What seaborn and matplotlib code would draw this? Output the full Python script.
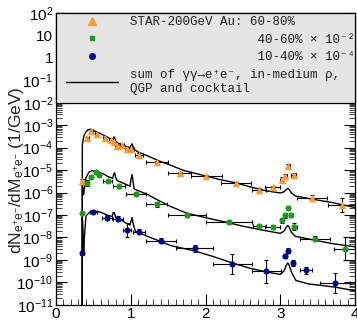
import numpy as np
import pandas as pd
import matplotlib
matplotlib.use("Agg")
import matplotlib.pyplot as plt
import seaborn as sns
from matplotlib.lines import Line2D
from matplotlib.patches import Rectangle
from matplotlib.ticker import FixedLocator, LogLocator, FuncFormatter, MultipleLocator, NullFormatter
from matplotlib.font_manager import FontProperties

# ---------------- data (log10 of yield) ----------------
# STAR 60-80 %
m_6080 = [0.345, 0.42, 0.47, 0.546, 0.65, 0.73, 0.77, 0.81, 0.88, 0.95, 1.01, 1.11, 1.35,
          1.655, 2.01, 2.41, 2.716, 2.90, 3.02, 3.07, 3.11, 3.18, 3.42, 3.82]
y_6080 = [-5.50, -3.56, -3.27, -3.38, -3.56, -3.68, -3.75, -3.93, -3.90, -4.08, -4.05, -4.32, -4.65,
          -5.13, -5.28, -5.59, -5.88, -5.77, -5.43, -5.28, -4.80, -5.22, -6.24, -6.55]
xe_6080 = [0.01, 0.02, 0.02, 0.02, 0.02, 0.02, 0.02, 0.02, 0.03, 0.03, 0.03, 0.05, 0.15,
           0.15, 0.21, 0.2, 0.09, 0.1, 0.02, 0.02, 0.02, 0.03, 0.2, 0.18]
ye_6080 = [0.1, 0.05, 0.05, 0.05, 0.05, 0.05, 0.05, 0.05, 0.05, 0.05, 0.05, 0.06, 0.06,
           0.06, 0.06, 0.06, 0.08, 0.08, 0.1, 0.1, 0.08, 0.08, 0.15, 0.3]

# STAR 40-60 % (x 1e-2)
m_4060 = [0.35, 0.42, 0.465, 0.53, 0.58, 0.69, 0.846, 1.07, 1.35, 1.755, 2.31, 2.72, 2.90,
          3.02, 3.07, 3.11, 3.14, 3.19, 3.47, 3.87]
y_4060 = [-6.91, -5.58, -5.30, -5.10, -5.21, -5.48, -5.73, -6.07, -6.53, -7.01, -7.31, -7.50, -7.54,
          -7.24, -7.02, -6.67, -7.00, -7.52, -8.05, -8.50]
xe_4060 = [0.01, 0.02, 0.02, 0.02, 0.02, 0.06, 0.08, 0.14, 0.14, 0.25, 0.31, 0.09, 0.1,
           0.02, 0.02, 0.02, 0.02, 0.03, 0.2, 0.15]
ye_4060 = [0.05, 0.12, 0.05, 0.05, 0.05, 0.05, 0.05, 0.08, 0.1, 0.1, 0.1, 0.1, 0.08,
           0.1, 0.1, 0.08, 0.1, 0.15, 0.1, 0.5]

# STAR 10-40 % (x 1e-4)
m_1040 = [0.353, 0.50, 0.68, 0.83, 0.95, 1.105, 1.40, 1.855, 2.36, 2.815, 3.06, 3.11, 3.17, 3.34, 3.735]
y_1040 = [-8.70, -6.87, -7.12, -7.16, -7.67, -7.75, -8.14, -8.49, -9.18, -9.52, -8.84, -8.59, -9.14, -9.47, -10.04]
xe_1040 = [0.01, 0.05, 0.07, 0.07, 0.06, 0.08, 0.2, 0.25, 0.26, 0.19, 0.02, 0.02, 0.03, 0.08, 0.2]
ye_1040 = [0.1, 0.05, 0.1, 0.1, 0.3, 0.12, 0.1, 0.15, 0.45, 0.5, 0.1, 0.1, 0.15, 0.15, 0.45]

# model curves (sum of gamma gamma -> ee, in-medium rho, QGP and cocktail)
cm_6080 = [0.35, 0.352, 0.37, 0.40, 0.43, 0.456, 0.546, 0.66, 0.725, 0.76, 0.775, 0.785, 0.80, 0.83,
           0.926, 0.99, 1.005, 1.018, 1.03, 1.045, 1.1, 1.22, 1.37, 1.53, 1.71, 2.0, 2.16, 2.42, 2.6,
           2.8, 3.0, 3.05, 3.08, 3.1, 3.12, 3.15, 3.2, 3.4, 3.7, 4.0]
cy_6080 = [-13.0, -3.9, -3.5, -3.3, -3.2, -3.18, -3.30, -3.48, -3.60, -3.63, -3.52, -3.55, -3.72, -3.80,
           -3.93, -4.0, -3.9, -3.83, -3.95, -4.08, -4.2, -4.36, -4.58, -4.78, -5.02, -5.26, -5.40, -5.58, -5.75,
           -5.92, -6.02, -5.97, -5.87, -5.82, -5.87, -6.02, -6.15, -6.28, -6.45, -6.67]

cm_4060 = [0.35, 0.352, 0.36, 0.37, 0.38, 0.40, 0.44, 0.48, 0.55, 0.635, 0.70, 0.76, 0.775, 0.785,
           0.80, 0.82, 0.926, 0.99, 1.005, 1.018, 1.03, 1.045, 1.1, 1.22, 1.37, 1.53, 1.75, 2.0,
           2.31, 2.5, 2.72, 3.0, 3.05, 3.08, 3.1, 3.12, 3.15, 3.2, 3.45, 3.7, 4.0]
cy_4060 = [-13.0, -5.6, -5.8, -6.1, -5.8, -5.35, -5.1, -5.03, -5.08, -5.17, -5.30, -5.36, -5.15, -5.12,
           -5.35, -5.47, -5.62, -5.72, -5.4, -5.2, -5.5, -5.84, -5.92, -6.08, -6.35, -6.62, -6.92, -7.12,
           -7.35, -7.5, -7.65, -7.82, -7.72, -7.55, -7.47, -7.55, -7.78, -7.95, -8.12, -8.28, -8.42]

cm_1040 = [0.35, 0.352, 0.36, 0.37, 0.38, 0.40, 0.45, 0.52, 0.6, 0.7, 0.75, 0.765, 0.78, 0.80,
           0.86, 0.926, 0.99, 1.005, 1.018, 1.03, 1.06, 1.22, 1.39, 1.53, 1.85, 2.1, 2.36, 2.6,
           2.815, 3.0, 3.05, 3.08, 3.1, 3.12, 3.15, 3.21, 3.37, 3.74, 4.0]
cy_1040 = [-13.0, -7.1, -7.6, -8.6, -8.0, -7.05, -6.88, -6.83, -6.88, -7.03, -7.07, -6.9, -6.9, -7.12,
           -7.2, -7.34, -7.45, -7.25, -7.12, -7.35, -7.72, -7.95, -8.17, -8.36, -8.6, -8.85, -9.14, -9.38,
           -9.54, -9.65, -9.5, -9.25, -9.14, -9.25, -9.55, -9.92, -10.07, -10.22, -10.38]

labels = ["STAR-200GeV Au: 60-80%",
          " " * 17 + "40-60% \u00d7 10\u207b\u00b2",
          " " * 17 + "10-40% \u00d7 10\u207b\u2074",
          "sum of \u03b3\u03b3\u2192e\u207ae\u207b, in-medium \u03c1,\nQGP and cocktail"]
colors = ["#FF9933", "#1E9A1E", "#000099"]

# ---------------- style ----------------
sns.set_theme(style="ticks")
plt.rcParams["font.family"] = ["Liberation Sans", "DejaVu Sans"]
plt.rcParams["mathtext.fontset"] = "custom"
plt.rcParams["mathtext.rm"] = "Liberation Sans"
plt.rcParams["mathtext.it"] = "Liberation Sans:italic"
plt.rcParams["mathtext.bf"] = "Liberation Sans:bold"

fig = plt.figure(figsize=(3.57, 3.20), dpi=100)
ax = fig.add_axes([56 / 357, 15.3 / 320, 299 / 357, 291.7 / 320])
ax.set_yscale("log")

# curves
curves = pd.concat([
    pd.DataFrame({"m": cm, "y": np.power(10.0, cy), "set": k})
    for k, (cm, cy) in enumerate([(cm_6080, cy_6080), (cm_4060, cy_4060), (cm_1040, cy_1040)])
])
sns.lineplot(data=curves, x="m", y="y", hue="set", units="set", estimator=None, sort=False,
             palette=["black"] * 3, linewidth=1.0, legend=False, ax=ax, zorder=2)

# data points
series = [(m_6080, y_6080, xe_6080, ye_6080, "^", 30),
          (m_4060, y_4060, xe_4060, ye_4060, "o", 19),
          (m_1040, y_1040, xe_1040, ye_1040, "o", 19)]
for (m, ly, xe, ye, mk, s), c in zip(series, colors):
    y = np.power(10.0, ly)
    d = np.array(ye)
    lo = y * (1 - np.power(10.0, -d))
    hi = y * (np.power(10.0, d) - 1)
    ax.errorbar(m, y, xerr=xe, yerr=[lo, hi], fmt="none", ecolor="black", elinewidth=0.8,
                capsize=1.2, capthick=0.8, zorder=3)
    sns.scatterplot(x=m, y=y, marker=mk, s=s, color=c, linewidth=0, ax=ax, zorder=4)

ax.set_xlim(0, 4)
ax.set_ylim(1e-11, 1e2)

# ticks
ax.xaxis.set_major_locator(MultipleLocator(1))
ax.xaxis.set_minor_locator(MultipleLocator(0.1))
ax.yaxis.set_major_locator(FixedLocator([10.0 ** k for k in range(-11, 3)]))
ax.yaxis.set_minor_locator(LogLocator(base=10, subs=np.arange(2, 10), numticks=100))
ax.yaxis.set_minor_formatter(NullFormatter())


def yfmt(v, pos):
    k = int(round(np.log10(v)))
    if k == 0:
        return "1"
    if k == 1:
        return "10"
    return r"10$^{%d}$" % k


ax.yaxis.set_major_formatter(FuncFormatter(yfmt))
ax.tick_params(axis="both", which="major", direction="in", length=8, width=0.8,
               right=True, top=False, labelsize=11, pad=2, colors="black")
ax.tick_params(axis="both", which="minor", direction="in", length=4, width=0.6,
               right=True, top=False)
for sp in ax.spines.values():
    sp.set_linewidth(0.9)
    sp.set_color("black")

ax.set_xlabel("")
ax.set_ylabel(r"dN$_{\mathrm{e^{+}e^{-}}}$/dM$_{\mathrm{e^{+}e^{-}}}$ (1/GeV)", fontsize=12.5)
ax.yaxis.set_label_coords(-0.10, 0.46)

# legend box
box = Rectangle((0, 9 / 13), 1, 4 / 13, transform=ax.transAxes, facecolor="#E5E5E5",
                edgecolor="black", linewidth=0.9, zorder=5, clip_on=False)
ax.add_patch(box)

handles = [Line2D([], [], ls="none", marker="^", color=colors[0], markersize=5.5),
           Line2D([], [], ls="none", marker="s", color=colors[1], markersize=3),
           Line2D([], [], ls="none", marker="o", color=colors[2], markersize=4),
           Line2D([], [], color="black", lw=1.0)]
leg = ax.legend(handles, labels, loc="upper left", bbox_to_anchor=(0.033, 0.99),
                bbox_transform=ax.transAxes, frameon=False,
                prop=FontProperties(family=["Liberation Mono", "DejaVu Sans Mono"], size=9),
                handlelength=4.2, handletextpad=0.9, labelspacing=0.45, borderpad=0,
                borderaxespad=0)
leg.set_zorder(6)
for t in leg.get_texts():
    t.set_color("#222222")

fig.savefig("out.png", dpi=100)
